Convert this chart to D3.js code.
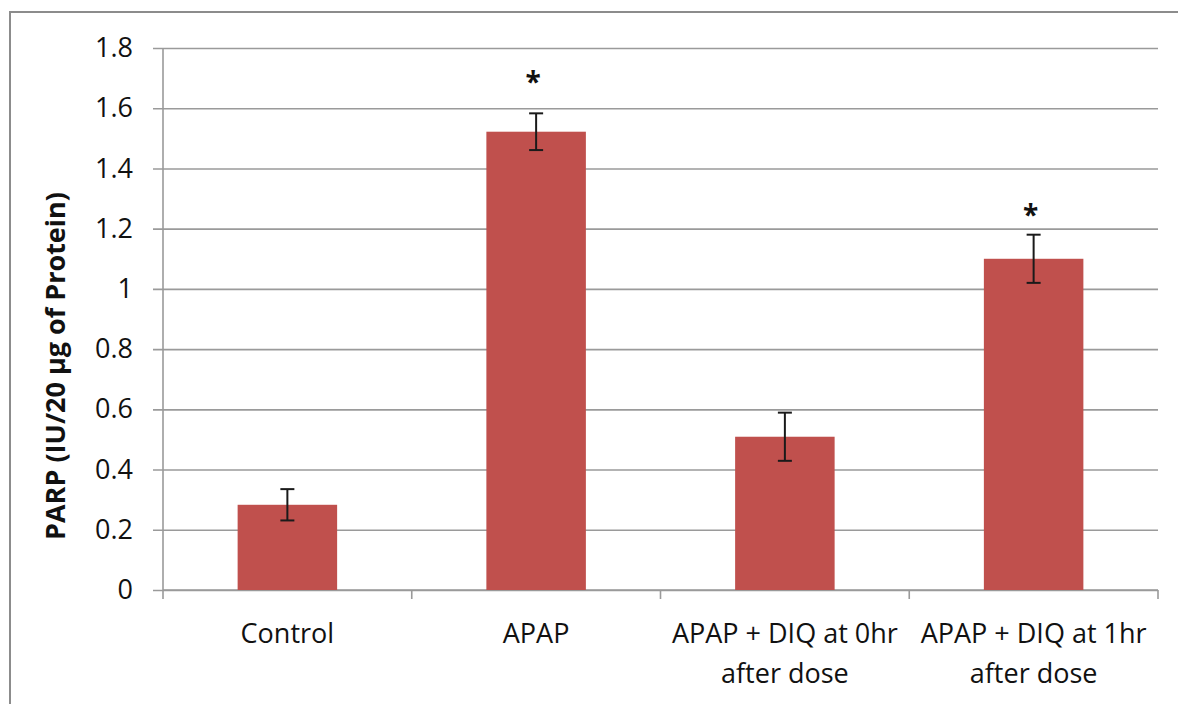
<!DOCTYPE html>
<html>
<head>
<meta charset="utf-8">
<script src="https://cdn.jsdelivr.net/npm/d3@7"></script>
<style>
  body { margin: 0; background: #fff; }
  text { font-family: "Open Sans", "Noto Sans", sans-serif; fill: #111; }
</style>
</head>
<body>
<svg></svg>
<script>
const categories = ["Control", "APAP", "APAP + DIQ at 0hr|after dose", "APAP + DIQ at 1hr|after dose"];
const values = [0.283, 1.522, 0.509, 1.10];
const errors = [0.052, 0.061, 0.08, 0.08];
const stars = [null, 1.705, null, 1.262];   // asterisk positions (data units)
const yTicks = [0, 0.2, 0.4, 0.6, 0.8, 1, 1.2, 1.4, 1.6, 1.8];

const width = 1178;
const height = 704;
const margin = { top: 48, right: 20, bottom: 114, left: 163 };

const svg = d3.select("svg")
  .attr("width", width)
  .attr("height", height);

// outer frame
svg.append("rect")
  .attr("x", 10).attr("y", 12)
  .attr("width", width + 20).attr("height", height + 20)
  .attr("fill", "none")
  .attr("stroke", "#8c8c8c")
  .attr("stroke-width", 2);

const x = d3.scaleBand()
  .domain(categories)
  .range([margin.left, 1158])
  .padding(0);

const y = d3.scaleLinear()
  .domain([0, 1.8])
  .range([590, margin.top]);

// gridlines + y ticks
const yAxis = svg.append("g")
  .attr("transform", `translate(${margin.left},0)`)
  .call(d3.axisLeft(y).tickValues(yTicks).tickSize(10).tickPadding(20)
    .tickFormat(d => d3.format("~g")(d)));
yAxis.select(".domain").remove();
yAxis.selectAll(".tick line").attr("stroke", "#9a9a9a").attr("stroke-width", 1.6)
  .attr("x2", -10).attr("x1", 1158 - margin.left);
yAxis.selectAll(".tick text").style("font-size", "27px").attr("fill", "#111");

// y axis line
svg.append("line")
  .attr("x1", margin.left).attr("x2", margin.left)
  .attr("y1", y(1.8)).attr("y2", y(0))
  .attr("stroke", "#9a9a9a").attr("stroke-width", 1.6);

// x axis
const xAxis = svg.append("g")
  .attr("transform", `translate(0,${y(0)})`);
xAxis.append("line")
  .attr("x1", margin.left).attr("x2", 1158)
  .attr("stroke", "#9a9a9a").attr("stroke-width", 1.6);
const bounds = categories.map(c => x(c)).concat([x(categories[3]) + x.bandwidth()]);
xAxis.selectAll(".xtick")
  .data(bounds)
  .join("line")
  .attr("x1", d => d).attr("x2", d => d)
  .attr("y1", 0).attr("y2", 9)
  .attr("stroke", "#9a9a9a").attr("stroke-width", 1.6);

xAxis.selectAll(".xlabel")
  .data(categories)
  .join("text")
  .attr("text-anchor", "middle")
  .style("font-size", "27px")
  .each(function(d) {
    const lines = d.split("|");
    d3.select(this).selectAll("tspan")
      .data(lines)
      .join("tspan")
      .attr("x", x(d) + x.bandwidth() / 2)
      .attr("y", (l, i) => 53 + i * 40)
      .text(l => l);
  });

// bars
const bw = x.bandwidth() * 0.4;
svg.selectAll(".bar")
  .data(values)
  .join("rect")
  .attr("x", (d, i) => x(categories[i]) + (x.bandwidth() - bw) / 2)
  .attr("y", d => y(d))
  .attr("width", bw)
  .attr("height", d => y(0) - y(d))
  .attr("fill", "#c0504d");

// error bars
const eb = svg.append("g").attr("stroke", "#1a1a1a").attr("stroke-width", 2);
values.forEach((v, i) => {
  const cx = x(categories[i]) + x.bandwidth() / 2;
  const top = y(v + errors[i]);
  const bot = y(v - errors[i]);
  eb.append("line").attr("x1", cx).attr("x2", cx).attr("y1", top).attr("y2", bot);
  eb.append("line").attr("x1", cx - 7).attr("x2", cx + 7).attr("y1", top).attr("y2", top);
  eb.append("line").attr("x1", cx - 7).attr("x2", cx + 7).attr("y1", bot).attr("y2", bot);
});

// significance asterisks
svg.selectAll(".star")
  .data(stars.map((s, i) => ({ s, i })).filter(d => d.s !== null))
  .join("text")
  .attr("x", d => x(categories[d.i]) + x.bandwidth() / 2 - 3)
  .attr("y", d => y(d.s) + 15)
  .attr("text-anchor", "middle")
  .style("font-size", "28px")
  .style("font-weight", "bold")
  .text("*");

// y axis title
svg.append("text")
  .attr("transform", `translate(65,366) rotate(-90)`)
  .attr("text-anchor", "middle")
  .style("font-size", "27px")
  .style("font-weight", "bold")
  .text("PARP (IU/20 µg of Protein)");
</script>
</body>
</html>
